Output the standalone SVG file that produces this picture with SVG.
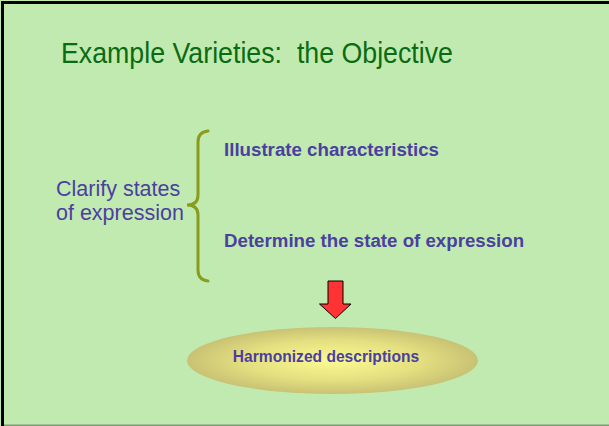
<svg xmlns="http://www.w3.org/2000/svg" width="609" height="426" viewBox="0 0 609 426">
  <defs>
    <radialGradient id="ellGrad" cx="50%" cy="50%" r="50%">
      <stop offset="0" stop-color="#fbfb92"/>
      <stop offset="0.6" stop-color="#e4df80"/>
      <stop offset="1" stop-color="#c8c274"/>
    </radialGradient>
  </defs>
  <style>
    .bodytext { font-family: "Liberation Sans", Arial, sans-serif; fill: #4b3fa0; }
    .bold { font-weight: bold; }
    .brace { fill: none; stroke: #8a9c1c; stroke-width: 3; stroke-linecap: round; }
  </style>
  <rect id="background" x="0" y="0" width="609" height="426" fill="#c1eab1"/>
  <rect x="1" y="1" width="608" height="3" fill="#000"/>
  <rect x="1" y="1" width="3" height="425" fill="#000"/>
  <rect x="4" y="424.5" width="605" height="1.5" fill="#7d9c74"/>

  <g id="title">
    <text x="61" y="63" font-family="'Liberation Sans', Arial, sans-serif" font-size="29" fill="#0b6b12" textLength="392" lengthAdjust="spacingAndGlyphs" xml:space="preserve">Example Varieties:  the Objective</text>
  </g>

  <g id="clarify">
    <text class="bodytext" x="56" y="196" font-size="21.5">Clarify states</text>
    <text class="bodytext" x="56" y="220" font-size="21.5">of expression</text>
  </g>

  <g id="illustrate">
    <text class="bodytext bold" x="224" y="155.5" font-size="18.7">Illustrate characteristics</text>
  </g>

  <g id="determine">
    <text class="bodytext bold" x="224" y="246.5" font-size="18.7">Determine the state of expression</text>
  </g>

  <g id="harmonized">
    <ellipse cx="332.5" cy="360.5" rx="145.5" ry="33.5" fill="url(#ellGrad)"/>
    <text class="bodytext bold" x="326" y="361.5" font-size="15.6" text-anchor="middle">Harmonized descriptions</text>
  </g>

  <g id="connectors">
    <path class="brace" d="M208,131 Q198,132 198,142 L198,195 Q198,205 187,205 Q198,205 198,215 L198,270 Q198,280 208,281"/>
    <polygon points="328,281 343,281 343,304 351,304 335.5,318.5 319.5,304 328,304" fill="#ff3333" stroke="#000" stroke-width="1" stroke-linejoin="miter"/>
  </g>
</svg>
